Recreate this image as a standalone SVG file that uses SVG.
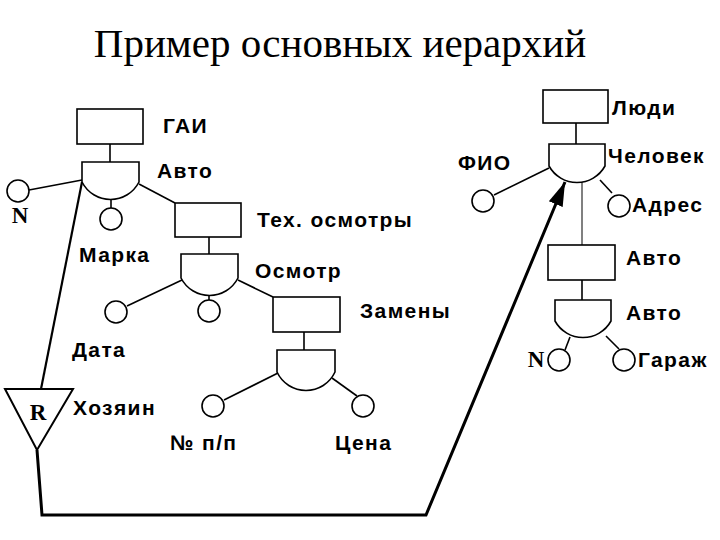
<svg xmlns="http://www.w3.org/2000/svg" width="720" height="540" viewBox="0 0 720 540">
<style>
.box{fill:#fff;stroke:#000;stroke-width:1.6}
.gate{fill:#fff;stroke:#000;stroke-width:1.6}
.att{fill:#fff;stroke:#000;stroke-width:1.6}
.ln{stroke:#000;stroke-width:1.6;fill:none}
.lbl{font-family:"Liberation Sans",Arial,sans-serif;font-weight:bold;font-size:21px;letter-spacing:1.4px;fill:#000}
.ser{font-family:"Liberation Serif","Times New Roman","DejaVu Serif",serif;font-weight:bold;font-size:23px;fill:#000}
.title{font-family:"Liberation Serif","Times New Roman","Noto Serif","DejaVu Serif",serif;font-weight:normal;font-size:41px;fill:#000}
</style>
<defs>
<marker id="arr" markerUnits="userSpaceOnUse" markerWidth="26" markerHeight="18" viewBox="0 0 26 18" refX="24" refY="9" orient="auto">
<path d="M0,1.5 L24,9 L0,16.5 Z" fill="#000"/>
</marker>
</defs>
<text class="title" x="340" y="57" text-anchor="middle">Пример основных иерархий</text>

<g id="connectors">
<line class="ln" x1="110" y1="144" x2="110" y2="162"/>
<line class="ln" x1="29" y1="190" x2="82" y2="180"/>
<line class="ln" x1="111" y1="199" x2="111" y2="208"/>
<line class="ln" x1="139" y1="184" x2="175" y2="203"/>
<line class="ln" x1="209" y1="237" x2="209" y2="254"/>
<line class="ln" x1="127" y1="306" x2="182" y2="280"/>
<line class="ln" x1="209" y1="296" x2="209" y2="300"/>
<line class="ln" x1="238" y1="280" x2="273" y2="297"/>
<line class="ln" x1="304" y1="332" x2="304" y2="350"/>
<line class="ln" x1="224" y1="400" x2="278" y2="373"/>
<line class="ln" x1="332" y1="378" x2="357" y2="396"/>
<line class="ln" x1="576" y1="123" x2="576" y2="144"/>
<line class="ln" x1="494" y1="195" x2="549" y2="168"/>
<line class="ln" x1="600" y1="180" x2="612" y2="193"/>
<line x1="582" y1="180" x2="582" y2="245" stroke="#808080" stroke-width="2"/>
<line class="ln" x1="582" y1="280" x2="582" y2="300"/>
<line class="ln" x1="570" y1="337" x2="565" y2="350"/>
<line class="ln" x1="606" y1="336" x2="619" y2="349"/>
<line x1="82" y1="182" x2="41" y2="389" stroke="#000" stroke-width="2.2"/>
<polyline points="37,450 42,515 426,515 565,182" fill="none" stroke="#000" stroke-width="3" marker-end="url(#arr)"/>
</g>

<g id="gai">
<rect class="box" x="77" y="109" width="66" height="35"/>
<text class="lbl" x="163" y="133">ГАИ</text>
</g>
<g id="avto1">
<path class="gate" d="M82,162 L82,182 A32,32 0 0 0 139,182 L139,162 Z"/>
<text class="lbl" x="157" y="178">Авто</text>
</g>
<g id="n1">
<circle class="att" cx="18" cy="191" r="11"/>
<text class="ser" x="20" y="223" text-anchor="middle">N</text>
</g>
<g id="marka">
<circle class="att" cx="111" cy="219" r="11"/>
<text class="lbl" x="79" y="262">Марка</text>
</g>
<g id="tech">
<rect class="box" x="175" y="203" width="66" height="34"/>
<text class="lbl" x="257" y="227">Тех. осмотры</text>
</g>
<g id="osmotr">
<path class="gate" d="M181,254 L181,278 A32,32 0 0 0 238,278 L238,254 Z"/>
<text class="lbl" x="255" y="278">Осмотр</text>
</g>
<g id="data">
<circle class="att" cx="116" cy="312" r="11"/>
<text class="lbl" x="72" y="357">Дата</text>
</g>
<g id="osm_att">
<circle class="att" cx="209" cy="311" r="11"/>
</g>
<g id="zameny">
<rect class="box" x="273" y="297" width="67" height="35"/>
<text class="lbl" x="360" y="318">Замены</text>
</g>
<g id="zam_gate">
<path class="gate" d="M277,350 L277,372 A32,32 0 0 0 335,372 L335,350 Z"/>
</g>
<g id="npp">
<circle class="att" cx="213" cy="406" r="11"/>
<text class="lbl" x="170" y="450">№ п/п</text>
</g>
<g id="cena">
<circle class="att" cx="363" cy="406" r="11"/>
<text class="lbl" x="335" y="450">Цена</text>
</g>
<g id="hozyain">
<polygon points="5,389 73,389 37,450" fill="#fff" stroke="#000" stroke-width="2"/>
<text class="ser" x="38" y="420" text-anchor="middle">R</text>
<text class="lbl" x="73" y="415">Хозяин</text>
</g>
<g id="lyudi">
<rect class="box" x="543" y="90" width="65" height="33"/>
<text class="lbl" x="612" y="115">Люди</text>
</g>
<g id="chelovek">
<path class="gate" d="M549,144 L549,166 A32,32 0 0 0 605,166 L605,144 Z"/>
<text class="lbl" x="608" y="163">Человек</text>
</g>
<g id="fio">
<circle class="att" cx="483" cy="201" r="11"/>
<text class="lbl" x="458" y="170">ФИО</text>
</g>
<g id="adres">
<circle class="att" cx="619" cy="206" r="11"/>
<text class="lbl" x="632" y="212">Адрес</text>
</g>
<g id="avto_box">
<rect class="box" x="548" y="245" width="67" height="35"/>
<text class="lbl" x="626" y="265">Авто</text>
</g>
<g id="avto2">
<path class="gate" d="M555,300 L555,321 A32,32 0 0 0 611,321 L611,300 Z"/>
<text class="lbl" x="626" y="320">Авто</text>
</g>
<g id="n2">
<circle class="att" cx="559" cy="360" r="11"/>
<text class="ser" x="536" y="367" text-anchor="middle">N</text>
</g>
<g id="garazh">
<circle class="att" cx="624" cy="360" r="11"/>
<text class="lbl" x="638" y="367">Гараж</text>
</g>
</svg>
